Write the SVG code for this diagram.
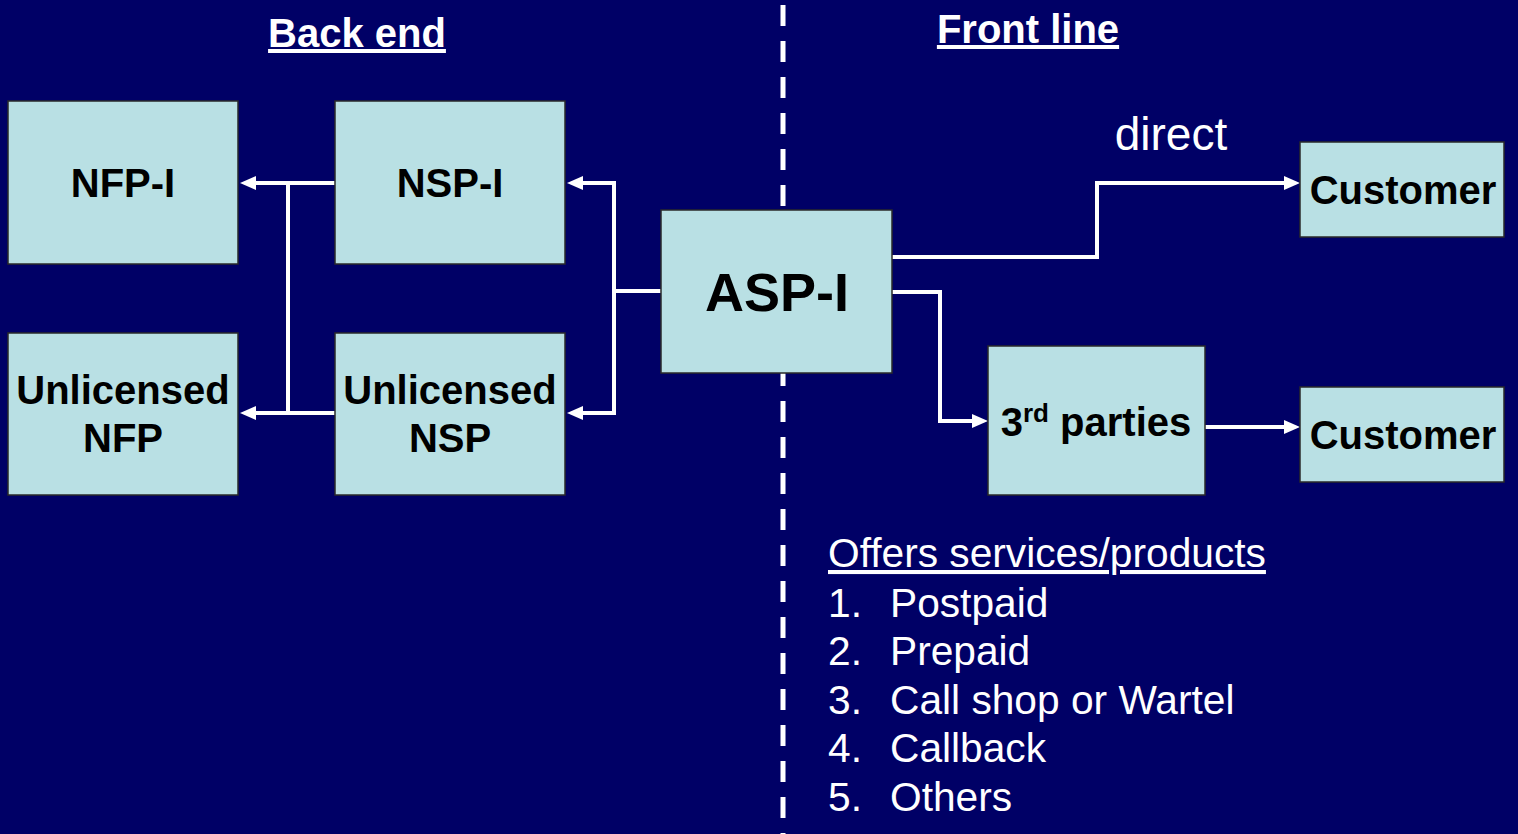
<svg xmlns="http://www.w3.org/2000/svg" width="1518" height="834" viewBox="0 0 1518 834">
<style>
.box{fill:#B9E0E4;stroke:#2a2a2a;stroke-width:1.5}
.bt{font-family:"Liberation Sans",Arial,sans-serif;font-weight:bold;font-size:40px;fill:#000;text-anchor:middle}
.wt{font-family:"Liberation Sans",Arial,sans-serif;font-size:40.7px;fill:#fff}
.conn{fill:none;stroke:#fff;stroke-width:4}
</style>
<defs>
<marker id="ah" markerUnits="userSpaceOnUse" markerWidth="16" markerHeight="16" viewBox="0 0 16 16" refX="4" refY="8" orient="auto">
<path d="M0,1 L16,8 L0,15 z" fill="#fff"/>
</marker>
</defs>
<rect width="1518" height="834" fill="#000066"/>
<line x1="783" y1="5" x2="783" y2="834" stroke="#fff" stroke-width="5" stroke-dasharray="21 15"/>

<g id="titles">
<text class="bt" x="357" y="47" style="fill:#fff" text-decoration="underline">Back end</text>
<text class="bt" x="1028" y="43" style="fill:#fff" text-decoration="underline">Front line</text>
<text class="wt" x="1171" y="150" text-anchor="middle" style="font-size:46px">direct</text>
</g>

<g id="connectors">
<path class="conn" d="M335,183 H252" marker-end="url(#ah)"/>
<path class="conn" d="M335,413 H252" marker-end="url(#ah)"/>
<path class="conn" d="M288,183 V413"/>
<path class="conn" d="M661,291 H614"/>
<path class="conn" d="M614,181 V415"/>
<path class="conn" d="M614,183 H579" marker-end="url(#ah)"/>
<path class="conn" d="M614,413 H579" marker-end="url(#ah)"/>
<path class="conn" d="M892,257 H1097 V183 H1288" marker-end="url(#ah)"/>
<path class="conn" d="M892,292 H940 V421 H976" marker-end="url(#ah)"/>
<path class="conn" d="M1205,427 H1288" marker-end="url(#ah)"/>
</g>

<g id="nfp-i">
<rect class="box" x="8" y="101" width="230" height="163"/>
<text class="bt" x="123" y="197">NFP-I</text>
</g>
<g id="nsp-i">
<rect class="box" x="335" y="101" width="230" height="163"/>
<text class="bt" x="450" y="197">NSP-I</text>
</g>
<g id="unlicensed-nfp">
<rect class="box" x="8" y="333" width="230" height="162"/>
<text class="bt" x="123" y="404">Unlicensed</text>
<text class="bt" x="123" y="452">NFP</text>
</g>
<g id="unlicensed-nsp">
<rect class="box" x="335" y="333" width="230" height="162"/>
<text class="bt" x="450" y="404">Unlicensed</text>
<text class="bt" x="450" y="452">NSP</text>
</g>
<g id="asp-i">
<rect class="box" x="661" y="210" width="231" height="163"/>
<text class="bt" x="777" y="311" style="font-size:54px">ASP-I</text>
</g>
<g id="customer-1">
<rect class="box" x="1300" y="142" width="204" height="95"/>
<text class="bt" x="1403" y="204">Customer</text>
</g>
<g id="third-parties">
<rect class="box" x="988" y="346" width="217" height="149"/>
<text class="bt" x="1096" y="436">3<tspan font-size="26" dy="-14">rd</tspan><tspan dy="14"> parties</tspan></text>
</g>
<g id="customer-2">
<rect class="box" x="1300" y="387" width="204" height="95"/>
<text class="bt" x="1403" y="449">Customer</text>
</g>

<g id="offers">
<text class="wt" x="828" y="567" text-decoration="underline">Offers services/products</text>
<text class="wt" x="828" y="617">1.</text><text class="wt" x="890" y="617">Postpaid</text>
<text class="wt" x="828" y="665">2.</text><text class="wt" x="890" y="665">Prepaid</text>
<text class="wt" x="828" y="714">3.</text><text class="wt" x="890" y="714">Call shop or Wartel</text>
<text class="wt" x="828" y="762">4.</text><text class="wt" x="890" y="762">Callback</text>
<text class="wt" x="828" y="811">5.</text><text class="wt" x="890" y="811">Others</text>
</g>
</svg>
